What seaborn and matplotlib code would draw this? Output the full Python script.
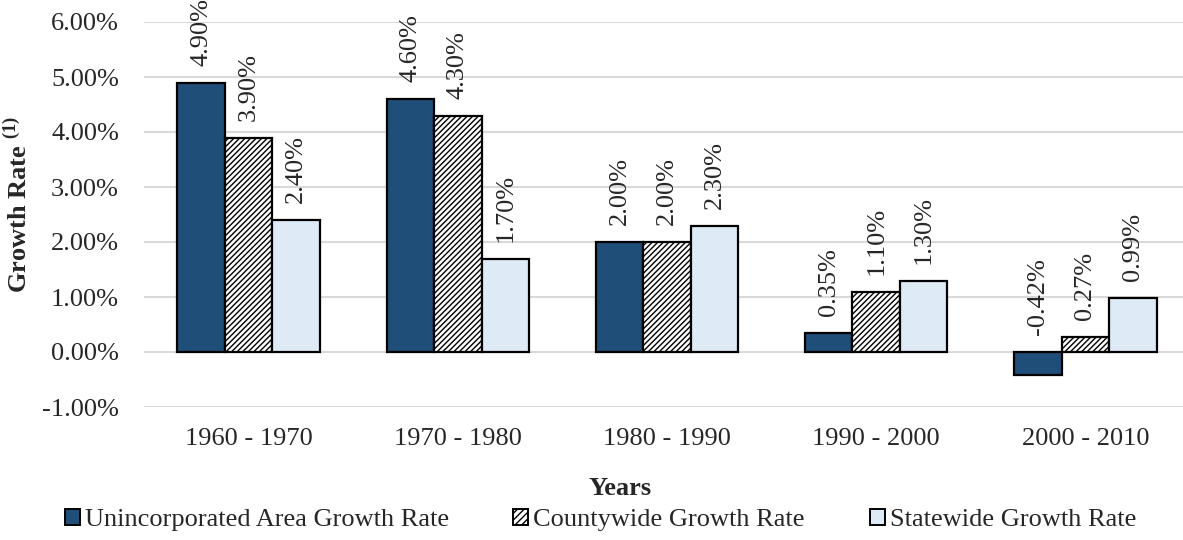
import pandas as pd
import numpy as np
import matplotlib
matplotlib.use("Agg")
import matplotlib.pyplot as plt
import seaborn as sns
from matplotlib.patches import Patch
from matplotlib.ticker import FuncFormatter

# === data ===
periods = ["1960 - 1970", "1970 - 1980", "1980 - 1990", "1990 - 2000", "2000 - 2010"]
series = ["Unincorporated Area Growth Rate", "Countywide Growth Rate", "Statewide Growth Rate"]
unincorporated = [4.90, 4.60, 2.00, 0.35, -0.42]
countywide = [3.90, 4.30, 2.00, 1.10, 0.27]
statewide = [2.40, 1.70, 2.30, 1.30, 0.99]

df = pd.DataFrame({
    "Years": periods * 3,
    "Series": np.repeat(series, len(periods)),
    "Rate": unincorporated + countywide + statewide,
})

colors = ["#1F4E79", "#FFFFFF", "#DEEBF7"]
hatches = ["", "//////", ""]

sns.set_theme(style="white")
plt.rcParams["font.family"] = ["Liberation Serif", "DejaVu Serif"]
plt.rcParams["mathtext.fontset"] = "custom"
plt.rcParams["mathtext.rm"] = "Liberation Serif"
plt.rcParams["mathtext.bf"] = "Liberation Serif:bold"
plt.rcParams["hatch.linewidth"] = 1.0

FS = 19

fig = plt.figure(figsize=(11.83, 5.40), dpi=100)
ax = fig.add_axes([144 / 1183, 133 / 540, 1046 / 1183, 385 / 540])

sns.barplot(data=df, x="Years", y="Rate", hue="Series", hue_order=series,
            order=periods, palette=colors, width=0.68, saturation=1,
            edgecolor="black", linewidth=1.6, legend=False, ax=ax)

for cont, h in zip(ax.containers, hatches):
    for p in cont.patches:
        p.set_hatch(h)
        p.set_edgecolor("black")
    for p, v in zip(cont.patches, cont.datavalues):
        ax.annotate(f"{v:.2f}%", (p.get_x() + p.get_width() / 2, max(v, 0)),
                    xytext=(0, 12), textcoords="offset points",
                    rotation=90, ha="center", va="bottom", fontsize=FS,
                    annotation_clip=False)

ax.set_ylim(-1, 6)
ax.set_xlim(-0.5, 4.5)
ax.set_yticks(np.arange(-1, 7, 1))
ax.yaxis.set_major_formatter(FuncFormatter(lambda v, _: f"{v:.2f}%"))
ax.grid(axis="y", color="#D9D9D9", linewidth=1.5)
ax.set_axisbelow(True)
for s in ax.spines.values():
    s.set_visible(False)
ax.tick_params(axis="both", length=0, labelsize=FS)
ax.tick_params(axis="x", pad=15)
ax.tick_params(axis="y", pad=18)

ax.set_xlabel("Years", fontsize=FS, fontweight="bold")
ax.xaxis.set_label_coords((620 - 144) / 1046, -(477 - 407) / 385)
ax.set_ylabel(r"Growth Rate $^{\mathbf{(1)}}$", fontsize=FS, fontweight="bold")
ax.yaxis.set_label_coords(-(144 - 32) / 1046, (407 - 205) / 385)

# legend entries placed one by one like the original
leg_x = [65, 513, 870]
for c, h, name, x in zip(colors, ["", "/////", ""], series, leg_x):
    fig.legend([Patch(facecolor=c, edgecolor="black", hatch=h, linewidth=1.4)], [name],
               loc="center left", bbox_to_anchor=(x / 1183, 1 - 520 / 540),
               frameon=False, fontsize=FS, handlelength=0.57, handleheight=0.57,
               handletextpad=0.2, borderpad=0, borderaxespad=0)

fig.savefig("out.png", dpi=100)
